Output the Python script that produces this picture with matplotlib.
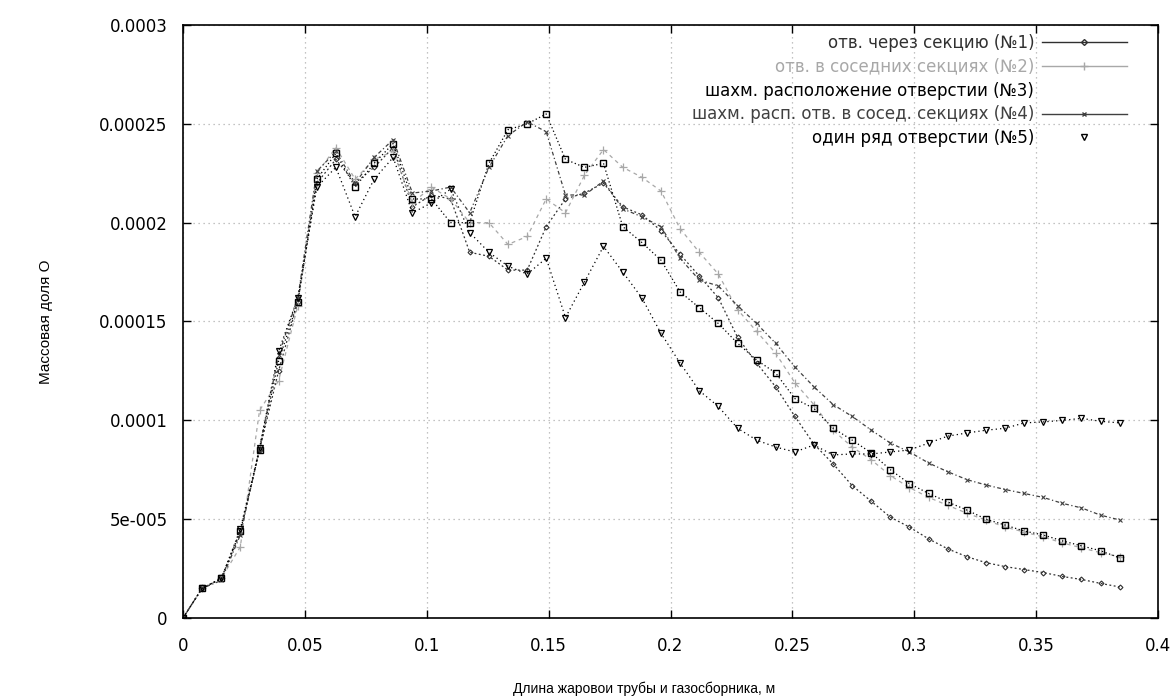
import matplotlib
matplotlib.use('Agg')
import matplotlib.pyplot as plt
from matplotlib.lines import Line2D

# x positions along the flame tube (m)
x = [0.0, 0.0078, 0.0157, 0.0235, 0.0314, 0.0392, 0.0471, 0.0549, 0.0627, 0.0706,
     0.0784, 0.0862, 0.0941, 0.1019, 0.1098, 0.1176, 0.1255, 0.1333, 0.1412, 0.1490,
     0.1569, 0.1647, 0.1725, 0.1804, 0.1882, 0.1961, 0.2039, 0.2118, 0.2196, 0.2275,
     0.2353, 0.2431, 0.2510, 0.2588, 0.2667, 0.2745, 0.2824, 0.2902, 0.2980, 0.3059,
     0.3137, 0.3216, 0.3294, 0.3373, 0.3451, 0.3529, 0.3608, 0.3686, 0.3765, 0.3843]

# mass fraction of O for each hole layout
y1 = [0, 1.5e-5, 2.0e-5, 4.3e-5, 8.5e-5, 1.25e-4, 1.6e-4, 2.2e-4, 2.32e-4, 2.2e-4,
      2.28e-4, 2.38e-4, 2.08e-4, 2.14e-4, 2.12e-4, 1.85e-4,
      1.83e-4, 1.76e-4, 1.76e-4, 1.98e-4, 2.12e-4, 2.15e-4, 2.2e-4, 2.08e-4,
      2.04e-4, 1.96e-4, 1.84e-4, 1.73e-4, 1.62e-4, 1.42e-4, 1.29e-4, 1.17e-4,
      1.02e-4, 8.8e-5, 7.8e-5, 6.7e-5, 5.9e-5, 5.1e-5, 4.6e-5, 4.0e-5,
      3.5e-5, 3.1e-5, 2.8e-5, 2.6e-5, 2.45e-5, 2.3e-5, 2.1e-5, 1.95e-5, 1.75e-5, 1.57e-5]
y2 = [0, 1.5e-5, 2.0e-5, 3.6e-5, 1.05e-4, 1.2e-4, 1.58e-4, 2.25e-4, 2.38e-4, 2.22e-4,
      2.32e-4, 2.36e-4, 2.1e-4, 2.18e-4, 2.12e-4, 2.0e-4,
      2.0e-4, 1.89e-4, 1.93e-4, 2.12e-4, 2.05e-4, 2.24e-4, 2.37e-4, 2.28e-4,
      2.23e-4, 2.16e-4, 1.97e-4, 1.85e-4, 1.74e-4, 1.56e-4, 1.45e-4, 1.34e-4,
      1.19e-4, 1.08e-4, 9.5e-5, 8.65e-5, 8.0e-5, 7.2e-5, 6.6e-5, 6.1e-5,
      5.7e-5, 5.3e-5, 4.95e-5, 4.6e-5, 4.35e-5, 4.1e-5, 3.8e-5, 3.55e-5, 3.3e-5, 3.1e-5]
y3 = [0, 1.5e-5, 2.0e-5, 4.4e-5, 8.5e-5, 1.3e-4, 1.6e-4, 2.22e-4, 2.35e-4, 2.18e-4,
      2.3e-4, 2.4e-4, 2.12e-4, 2.12e-4, 2.0e-4, 2.0e-4,
      2.3e-4, 2.47e-4, 2.5e-4, 2.55e-4, 2.32e-4, 2.28e-4, 2.3e-4, 1.98e-4,
      1.9e-4, 1.81e-4, 1.65e-4, 1.57e-4, 1.49e-4, 1.39e-4, 1.305e-4, 1.24e-4,
      1.11e-4, 1.06e-4, 9.6e-5, 9.0e-5, 8.35e-5, 7.5e-5, 6.8e-5, 6.3e-5,
      5.87e-5, 5.46e-5, 5.0e-5, 4.7e-5, 4.4e-5, 4.2e-5, 3.9e-5, 3.65e-5, 3.4e-5, 3.04e-5]
y4 = [0, 1.5e-5, 1.9e-5, 4.2e-5, 8.6e-5, 1.33e-4, 1.62e-4, 2.26e-4, 2.36e-4, 2.2e-4,
      2.33e-4, 2.42e-4, 2.15e-4, 2.16e-4, 2.18e-4, 2.05e-4,
      2.28e-4, 2.44e-4, 2.51e-4, 2.46e-4, 2.14e-4, 2.14e-4, 2.21e-4, 2.07e-4,
      2.03e-4, 1.98e-4, 1.82e-4, 1.71e-4, 1.68e-4, 1.58e-4, 1.49e-4, 1.39e-4,
      1.27e-4, 1.17e-4, 1.08e-4, 1.02e-4, 9.5e-5, 8.85e-5, 8.4e-5, 7.84e-5,
      7.4e-5, 7.0e-5, 6.73e-5, 6.5e-5, 6.3e-5, 6.1e-5, 5.8e-5, 5.57e-5, 5.2e-5, 4.96e-5]
y5 = [0, 1.5e-5, 2.0e-5, 4.5e-5, 8.6e-5, 1.35e-4, 1.62e-4, 2.18e-4, 2.28e-4, 2.03e-4,
      2.22e-4, 2.33e-4, 2.05e-4, 2.1e-4, 2.17e-4, 1.95e-4,
      1.85e-4, 1.78e-4, 1.74e-4, 1.82e-4, 1.52e-4, 1.7e-4, 1.88e-4, 1.75e-4,
      1.62e-4, 1.44e-4, 1.29e-4, 1.15e-4, 1.07e-4, 9.6e-5, 9.0e-5, 8.65e-5,
      8.4e-5, 8.75e-5, 8.25e-5, 8.3e-5, 8.3e-5, 8.4e-5, 8.5e-5, 8.85e-5,
      9.2e-5, 9.36e-5, 9.5e-5, 9.6e-5, 9.87e-5, 9.92e-5, 1.0e-4, 1.01e-4, 9.95e-5, 9.87e-5]

labels = ['отв. через секцию (№1)',
          'отв. в соседних секциях (№2)',
          'шахм. расположение отверстии (№3)',
          'шахм. расп. отв. в сосед. секциях (№4)',
          'один ряд отверстии (№5)']

xticks = [0, 0.05, 0.1, 0.15, 0.2, 0.25, 0.3, 0.35, 0.4]
xticklabels = ['0', '0.05', '0.1', '0.15', '0.2', '0.25', '0.3', '0.35', '0.4']
yticks = [0, 5e-5, 1e-4, 1.5e-4, 2e-4, 2.5e-4, 3e-4]
yticklabels = ['0', '5e-005', '0.0001', '0.00015', '0.0002', '0.00025', '0.0003']

plt.rcParams['font.family'] = ['DejaVu Sans']
plt.rcParams['font.size'] = 12

fig = plt.figure(figsize=(11.74, 6.98), dpi=100)
ax = fig.add_axes([0.1559, 0.1146, 0.8305, 0.8496])

ax.plot(x, y1, color='#303030', lw=0.9, ls=(0, (1.5, 2)), marker='D', ms=2.5,
        mfc='none', mew=0.8)
ax.plot(x, y2, color='#a8a8a8', lw=0.9, ls=(0, (3, 3)), marker='+', ms=6, mew=0.9)
ax.plot(x, y3, color='black', lw=0.9, ls=(0, (1, 2)), marker='s', ms=5,
        mfc='none', mew=1.0)
ax.plot(x, y4, color='#404040', lw=0.9, ls=(0, (3, 2, 1, 2)), marker='x', ms=3.5, mew=0.8)
ax.plot(x, y5, color='black', lw=0.9, ls=(0, (1, 2.5)), marker='v', ms=5,
        mfc='none', mew=0.9)

ax.set_xlim(0, 0.4)
ax.set_ylim(0, 0.0003)
ax.set_xticks(xticks)
ax.set_xticklabels(xticklabels)
ax.set_yticks(yticks)
ax.set_yticklabels(yticklabels)
ax.tick_params(direction='in', length=6, width=1, top=True, right=True)
ax.tick_params(axis='x', pad=14)
ax.tick_params(axis='y', pad=11)
ax.grid(True, color='#b0b0b0', ls=(0, (1, 3)), lw=0.9)
for s in ax.spines.values():
    s.set_linewidth(1.2)

ax.set_xlabel('Длина жаровои трубы и газосборника, м', family='Liberation Sans', fontsize=10)
ax.set_ylabel('Массовая доля О', family='Liberation Sans', fontsize=11)
ax.xaxis.set_label_coords(0.473, -0.108)
ax.yaxis.set_label_coords(-0.133, 0.5)

# legend samples drawn like the original key
handles = [Line2D([], [], color='#303030', lw=1, marker='D', ms=3, mfc='none'),
           Line2D([], [], color='#a8a8a8', lw=1, marker='+', ms=6),
           Line2D([], [], ls='none'),
           Line2D([], [], color='#404040', lw=1, marker='x', ms=3),
           Line2D([], [], ls='none', color='black', marker='v', ms=5, mfc='none')]
ax.legend(handles, labels, loc='upper right', bbox_to_anchor=(0.968, 0.985),
          frameon=False, markerfirst=False, handlelength=5.1, handletextpad=0.45,
          labelspacing=0.35, borderaxespad=0, borderpad=0,
          labelcolor=['#303030', '#a8a8a8', 'black', '#404040', 'black'])

fig.savefig('out.png', dpi=100)
